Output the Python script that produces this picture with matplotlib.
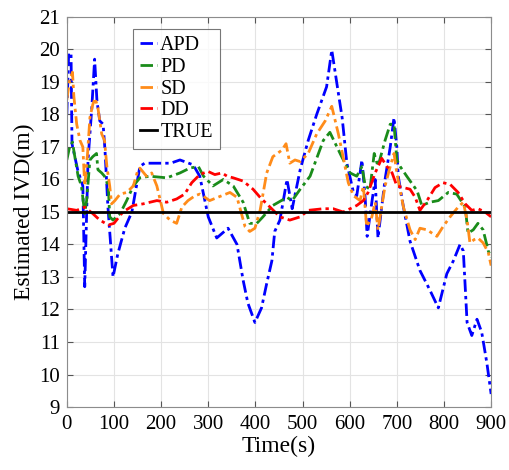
import matplotlib
matplotlib.use("Agg")
import matplotlib.pyplot as plt
import numpy as np

plt.rcParams['font.family'] = ['Liberation Serif', 'DejaVu Serif']
plt.rcParams['mathtext.fontset'] = 'stix'

# APD (blue)
apd_t = [0, 4, 9, 11, 23, 34, 38, 45, 53, 55, 59, 64, 70, 77, 81, 87, 98, 108, 123, 138, 155, 165,
         197, 220, 240, 268, 282, 300, 318, 342, 361, 374, 384, 399, 413, 424, 435, 441, 452, 467,
         478, 495, 512, 530, 551, 562, 576, 584, 594, 608, 615, 626, 633, 637, 647, 654, 660, 675,
         686, 694, 700, 703, 714, 728, 749, 770, 788, 806, 820, 834, 841, 849, 859, 870, 880, 891, 900]
apd_v = [18.0, 19.9, 19.85, 17.1, 16.3, 15.8, 12.7, 16.6, 18.2, 18.7, 19.7, 18.4, 17.8, 17.7, 16.9, 15.2,
         13.0, 13.7, 14.5, 15.0, 16.4, 16.5, 16.5, 16.5, 16.6, 16.45, 16.1, 14.85, 14.2, 14.5, 14.0, 12.9,
         12.2, 11.6, 12.05, 12.8, 13.5, 14.4, 14.75, 16.0, 15.1, 16.3, 17.2, 18.0, 18.85, 19.98, 18.65,
         17.9, 16.5, 15.6, 15.5, 16.6, 15.4, 14.25, 15.3, 16.0, 14.2, 16.0, 17.0, 17.9, 17.0, 16.1, 15.15,
         14.1, 13.2, 12.6, 12.05, 13.1, 13.5, 14.0, 13.8, 11.6, 11.2, 11.7, 11.3, 10.35, 9.4]

# PD (green)
pd_t = [0, 6, 12, 17, 24, 31, 38, 42, 49, 55, 63, 66, 74, 80, 88, 91, 98, 113, 127, 141, 155, 176,
        212, 240, 261, 279, 290, 310, 332, 353, 374, 388, 403, 416, 437, 467, 478, 495, 516, 544, 558,
        583, 601, 615, 626, 633, 643, 652, 660, 675, 686, 694, 700, 707, 721, 743, 753, 770, 788, 809,
        827, 845, 851, 862, 872, 883, 894, 900]
pd_v = [16.6, 17.0, 17.15, 16.7, 16.1, 15.8, 14.95, 15.35, 16.6, 16.7, 16.8, 16.3, 16.2, 16.1, 15.8,
        14.85, 14.75, 14.95, 15.35, 15.8, 16.05, 16.1, 16.05, 16.2, 16.35, 16.4, 16.1, 15.8, 16.0, 15.8,
        15.3, 14.65, 14.65, 14.85, 15.2, 15.45, 15.35, 15.7, 16.1, 17.2, 17.45, 16.7, 16.2, 16.1, 16.4,
        15.8, 15.7, 16.8, 16.4, 17.2, 17.7, 17.7, 16.6, 16.4, 16.1, 15.65, 15.2, 15.3, 15.35, 15.6,
        15.55, 15.15, 14.35, 14.45, 14.65, 14.45, 13.8, 13.6]

# SD (orange)
sd_t = [0, 6, 12, 15, 21, 28, 34, 38, 44, 49, 55, 60, 66, 74, 80, 85, 91, 95, 102, 113, 127, 141, 151,
        155, 169, 180, 191, 205, 219, 233, 244, 257, 272, 282, 293, 303, 320, 346, 361, 378, 388, 399,
        410, 424, 437, 456, 465, 473, 484, 495, 512, 530, 548, 562, 576, 586, 597, 608, 622, 629, 636,
        647, 654, 660, 675, 686, 694, 700, 714, 728, 739, 749, 764, 785, 798, 813, 830, 841, 849, 855,
        864, 872, 883, 894, 900]
sd_v = [18.45, 19.05, 19.3, 18.55, 17.7, 17.2, 17.0, 15.8, 16.8, 17.9, 18.3, 18.5, 18.2, 17.4, 17.2,
        16.4, 15.8, 15.25, 15.35, 15.55, 15.6, 15.8, 16.3, 16.35, 16.1, 16.2, 15.8, 14.95, 14.75, 14.65,
        15.15, 15.35, 15.5, 15.55, 15.45, 15.35, 15.45, 15.6, 15.45, 14.55, 14.4, 14.5, 15.05, 16.2, 16.7,
        16.9, 17.1, 16.5, 16.6, 16.55, 16.8, 17.4, 17.8, 18.25, 17.4, 16.7, 15.9, 15.5, 15.35, 15.8,
        14.55, 14.85, 15.3, 14.45, 15.8, 16.4, 16.8, 16.2, 15.15, 14.45, 14.15, 14.5, 14.45, 14.25, 14.55,
        14.85, 15.15, 15.3, 14.75, 14.05, 14.15, 14.2, 14.05, 13.75, 13.35]

# DD (red)
dd_t = [0, 21, 38, 55, 70, 88, 100, 119, 141, 162, 191, 212, 233, 250, 265, 282, 299, 314, 329, 340,
        353, 374, 395, 410, 431, 452, 473, 495, 512, 544, 565, 586, 601, 615, 629, 639, 654, 668, 679,
        690, 700, 714, 728, 739, 749, 764, 781, 798, 813, 830, 845, 859, 872, 887, 900]
dd_v = [15.1, 15.05, 15.15, 14.95, 14.75, 14.6, 14.65, 15.0, 15.2, 15.25, 15.35, 15.3, 15.4, 15.55,
        15.9, 16.15, 16.25, 16.15, 16.2, 16.1, 16.05, 15.95, 15.7, 15.45, 15.15, 14.85, 14.75, 14.85,
        15.05, 15.1, 15.1, 15.0, 15.1, 15.2, 15.35, 15.6, 16.2, 16.65, 16.4, 16.2, 15.8, 15.75, 15.7,
        15.45, 15.05, 15.35, 15.75, 15.9, 15.85, 15.6, 15.25, 15.05, 15.1, 15.0, 14.85]

true_t = [0, 900]
true_v = [15, 15]

series = [("APD", apd_t, apd_v, "#0000ff"),
          ("PD", pd_t, pd_v, "#1a8c1a"),
          ("SD", sd_t, sd_v, "#ff8c1a"),
          ("DD", dd_t, dd_v, "#ff0000")]

fig = plt.figure(figsize=(5.1, 4.7), dpi=100)
ax = fig.add_axes([0.131, 0.134, 0.832, 0.830])
ds = (0, (4.5, 1.5, 1.2, 1.5))
for name, t, v, c in series:
    ax.plot(t, v, color=c, lw=2.0, ls=ds, label=name)
ax.plot(true_t, true_v, color="black", lw=2.0, label="TRUE")

ax.set_xlim(0, 900)
ax.set_ylim(9, 21)
ax.set_xticks(np.arange(0, 901, 100))
ax.set_yticks(np.arange(9, 22, 1))
ax.grid(True, color="#e3e3e3", lw=0.8)
ax.set_axisbelow(True)
ax.tick_params(direction="in", labelsize=15, length=4, color="#555555", top=True, right=True,
               labeltop=False, labelright=False)
ax.tick_params(axis="x", pad=6)
ax.tick_params(axis="y", pad=5)
for s in ax.spines.values():
    s.set_color("#8c8c8c")
    s.set_linewidth(0.8)
ax.set_xlabel("Time(s)", fontsize=17, labelpad=1)
ax.set_ylabel("Estimated IVD(m)", fontsize=17, labelpad=3)
leg = ax.legend(loc="upper left", bbox_to_anchor=(0.156, 0.969), fontsize=14.5, frameon=True,
                fancybox=False, edgecolor="#555555", handlelength=0.85, handletextpad=0.15,
                borderpad=0.35, labelspacing=0.13, borderaxespad=0)
leg.get_frame().set_linewidth(0.8)
fig.savefig("out.png", dpi=100)
